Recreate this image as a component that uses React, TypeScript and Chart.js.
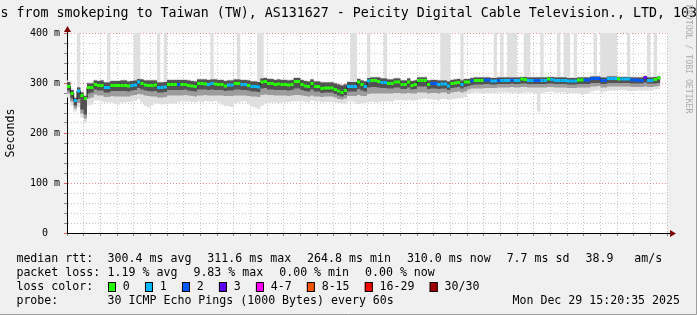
import React, { useEffect, useRef } from 'react';
import { Chart, registerables } from 'chart.js';

Chart.register(...registerables);

// ---- time axis (minutes after 12:00) ----
const FIRST_SAMPLE_MIN = 21; // 12:21, one sample per minute
const X_MIN = 21;
const X_MAX = 201;
const xTickMinutes = [40, 60, 80, 100, 120, 140, 160, 180, 200];
const xTickLabels = ['12:40', '13:00', '13:20', '13:40', '14:00', '14:20', '14:40', '15:00', '15:20'];

// ---- value axis (milliseconds) ----
const yTickValues = [0, 100, 200, 300, 400];
const yTickLabels = ['0', '100 m', '200 m', '300 m', '400 m'];

// ---- median rtt per minute (ms) ----
const medianMs = [
  293, 279, 265, 284, 275, 269, 291, 291, 297, 295,
  295, 291, 291, 295, 295, 295, 295, 295, 294, 295,
  296, 302, 299, 296, 295, 295, 296, 291, 291, 292,
  297, 297, 297, 297, 297, 297, 295, 294, 293, 299,
  299, 298, 297, 299, 298, 297, 297, 294, 296, 296,
  299, 299, 297, 297, 295, 293, 293, 292, 302, 303,
  299, 299, 297, 298, 297, 297, 296, 297, 303, 303,
  297, 294, 293, 299, 293, 293, 289, 290, 290, 290,
  287, 284, 281, 285, 293, 293, 293, 302, 297, 293,
  304, 305, 305, 303, 301, 301, 299, 299, 302, 302,
  297, 297, 302, 295, 297, 305, 305, 305, 297, 299,
  299, 297, 298, 298, 294, 299, 300, 301, 297, 302,
  302, 304, 305, 305, 305, 306, 306, 304, 304, 305,
  305, 305, 305, 306, 305, 305, 308, 307, 305, 305,
  305, 305, 305, 305, 308, 307, 305, 305, 305, 305,
  304, 304, 304, 306, 306, 306, 306, 309, 309, 309,
  305, 305, 309, 309, 309, 308, 308, 308, 308, 306,
  306, 305, 305, 311, 305, 305, 307, 310,
];

// ---- lost pings (of 30) per minute ----
const lossCount = [
  0, 0, 1, 1, 0, 0, 0, 0, 0, 0,
  0, 1, 1, 0, 0, 0, 0, 0, 0, 1,
  1, 1, 0, 0, 0, 0, 0, 1, 1, 1,
  0, 0, 0, 2, 0, 0, 0, 0, 0, 0,
  0, 0, 1, 1, 0, 0, 0, 0, 1, 1,
  0, 0, 1, 1, 0, 1, 1, 1, 0, 0,
  0, 0, 0, 0, 0, 0, 0, 0, 0, 0,
  0, 0, 0, 0, 0, 0, 0, 0, 0, 0,
  0, 0, 0, 0, 1, 1, 1, 0, 0, 1,
  1, 0, 0, 0, 1, 1, 0, 0, 0, 0,
  0, 0, 0, 0, 0, 0, 0, 0, 0, 2,
  2, 1, 1, 1, 1, 0, 0, 0, 1, 0,
  0, 2, 0, 0, 0, 2, 2, 1, 1, 2,
  1, 1, 1, 2, 1, 1, 0, 0, 1, 1,
  2, 2, 1, 1, 0, 1, 1, 1, 1, 1,
  1, 1, 1, 0, 0, 2, 2, 2, 2, 2,
  2, 2, 1, 1, 1, 0, 1, 1, 1, 2,
  2, 2, 2, 3, 1, 1, 0, 0,
];

// ---- smoke: spread of the 30 pings around the median (ms) ----
const smokeUpInner = [
  9, 7, 5, 7, 6, 5, 8, 8, 8, 9,
  10, 10, 10, 9, 9, 9, 10, 10, 9, 9,
  9, 6, 8, 9, 10, 10, 9, 10, 10, 10,
  9, 9, 9, 9, 9, 9, 10, 10, 10, 8,
  8, 9, 9, 8, 9, 9, 9, 10, 9, 9,
  8, 8, 9, 9, 10, 10, 10, 10, 7, 7,
  9, 9, 9, 9, 9, 9, 9, 9, 7, 7,
  9, 10, 10, 8, 10, 10, 12, 11, 11, 11,
  12, 13, 14, 12, 9, 9, 9, 6, 8, 10,
  6, 6, 6, 8, 8, 8, 8, 8, 7, 7,
  8, 8, 7, 9, 8, 6, 6, 6, 8, 7,
  7, 8, 7, 7, 9, 7, 7, 7, 8, 6,
  6, 6, 6, 6, 6, 5, 5, 6, 6, 6,
  6, 6, 6, 5, 6, 6, 4, 5, 6, 6,
  6, 6, 6, 6, 4, 5, 6, 6, 6, 6,
  6, 6, 6, 5, 5, 5, 5, 4, 4, 4,
  6, 6, 4, 4, 4, 4, 4, 4, 4, 5,
  5, 6, 6, 3, 6, 6, 5, 3,
];
const smokeUpOuter = [
  12, 10, 8, 250, 9, 8, 11, 11, 10, 11,
  12, 12, 250, 11, 11, 11, 12, 12, 11, 11,
  250, 250, 10, 11, 12, 12, 11, 250, 12, 250,
  11, 11, 11, 11, 11, 11, 12, 12, 12, 10,
  10, 11, 11, 250, 11, 11, 11, 12, 11, 11,
  10, 250, 11, 11, 12, 12, 12, 250, 250, 9,
  11, 11, 11, 11, 11, 11, 11, 11, 9, 9,
  11, 12, 12, 10, 12, 12, 14, 13, 13, 13,
  14, 15, 16, 14, 11, 250, 250, 8, 10, 12,
  250, 8, 8, 10, 10, 250, 10, 10, 9, 9,
  10, 10, 9, 11, 10, 8, 8, 8, 10, 9,
  9, 10, 250, 250, 250, 9, 9, 9, 250, 8,
  8, 8, 8, 8, 8, 7, 7, 8, 250, 8,
  250, 8, 250, 250, 250, 8, 6, 250, 250, 8,
  8, 8, 250, 8, 6, 7, 8, 250, 8, 250,
  250, 8, 250, 7, 7, 7, 7, 6, 250, 6,
  250, 250, 250, 250, 250, 6, 6, 6, 250, 7,
  7, 8, 8, 5, 250, 8, 250, 5,
];
const smokeDownInner = [
  8, 10, 10, 16, 28, 32, 12, 10, 10, 10,
  10, 10, 10, 11, 11, 11, 11, 11, 11, 10,
  10, 12, 12, 11, 11, 12, 12, 10, 10, 10,
  11, 11, 11, 11, 11, 10, 10, 10, 10, 12,
  12, 11, 11, 12, 12, 11, 11, 10, 11, 11,
  12, 12, 11, 11, 10, 10, 10, 10, 13, 13,
  12, 12, 11, 12, 11, 11, 11, 11, 14, 14,
  11, 10, 10, 12, 10, 10, 9, 9, 9, 9,
  9, 9, 8, 9, 10, 10, 10, 14, 12, 10,
  13, 13, 13, 12, 11, 11, 10, 10, 11, 11,
  9, 9, 11, 8, 9, 12, 12, 12, 9, 10,
  10, 9, 9, 9, 8, 9, 9, 9, 8, 10,
  8, 8, 8, 8, 8, 8, 8, 7, 7, 7,
  7, 7, 7, 7, 7, 7, 9, 8, 7, 7,
  7, 7, 7, 7, 9, 8, 7, 7, 7, 7,
  7, 7, 7, 8, 8, 8, 8, 9, 9, 9,
  7, 7, 9, 9, 9, 8, 8, 8, 8, 7,
  7, 6, 6, 10, 6, 6, 8, 10,
];
const smokeDownMid = [
  14, 16, 16, 24, 36, 40, 22, 20, 20, 20,
  20, 19, 19, 21, 22, 22, 22, 22, 21, 20,
  20, 24, 22, 21, 21, 22, 23, 20, 20, 20,
  22, 22, 22, 22, 22, 21, 20, 20, 20, 24,
  24, 22, 22, 24, 23, 22, 22, 20, 22, 22,
  24, 24, 22, 22, 21, 20, 20, 20, 26, 26,
  23, 23, 22, 23, 22, 22, 22, 22, 27, 27,
  22, 20, 20, 24, 20, 20, 17, 17, 17, 17,
  16, 16, 14, 16, 19, 19, 19, 26, 23, 19,
  26, 26, 26, 24, 22, 22, 20, 20, 22, 22,
  18, 18, 22, 16, 18, 24, 24, 24, 18, 19,
  19, 18, 17, 17, 16, 18, 18, 18, 16, 19,
  15, 15, 16, 16, 16, 16, 16, 14, 14, 14,
  14, 14, 14, 14, 14, 14, 16, 15, 14, 14,
  14, 14, 14, 14, 16, 15, 14, 14, 14, 14,
  14, 14, 14, 15, 15, 15, 15, 16, 16, 15,
  14, 14, 16, 16, 16, 15, 15, 15, 15, 14,
  14, 13, 13, 18, 13, 13, 14, 16,
];
const smokeDownOuter = [
  22, 24, 22, 32, 44, 48, 36, 34, 32, 30,
  32, 30, 30, 34, 36, 38, 34, 34, 32, 32,
  32, 34, 38, 42, 44, 40, 36, 32, 34, 34,
  38, 38, 38, 36, 34, 34, 32, 32, 32, 36,
  38, 34, 34, 36, 34, 36, 40, 40, 42, 44,
  40, 38, 34, 34, 38, 40, 42, 44, 48, 44,
  38, 38, 36, 38, 36, 36, 34, 34, 40, 40,
  34, 32, 32, 34, 30, 30, 28, 28, 28, 28,
  26, 24, 22, 26, 30, 30, 32, 44, 38, 32,
  42, 42, 44, 42, 38, 38, 36, 36, 36, 36,
  32, 32, 36, 30, 32, 38, 38, 36, 30, 32,
  32, 32, 30, 30, 28, 32, 32, 32, 28, 30,
  24, 24, 24, 24, 26, 26, 26, 24, 24, 24,
  24, 24, 24, 26, 24, 26, 28, 26, 24, 24,
  26, 62, 26, 24, 26, 24, 24, 24, 24, 24,
  24, 24, 24, 26, 30, 28, 26, 26, 24, 24,
  24, 22, 24, 24, 24, 22, 22, 22, 24, 22,
  22, 20, 20, 26, 20, 20, 20, 22,
];

// ---- legend ----
const lossLegendLabels = ['0', '1', '2', '3', '4-7', '8-15', '16-29', '30/30'];
const lossLegendColors = ['#26ff00', '#00b8ff', '#0059ff', '#5e00ff', '#ff00ff', '#ff5500', '#ff0000', '#a10000'];
const titleText = 's from smokeping to Taiwan (TW), AS131627 - Peicity Digital Cable Television., LTD, 103';
const medianRow = ['median rtt:', '300.4 ms avg', '311.6 ms max', '264.8 ms min', '310.0 ms now', '7.7 ms sd', '38.9   am/s'];
const lossRow = ['packet loss:', '1.19 % avg', '9.83 % max', '0.00 % min', '0.00 % now'];
const probeLabel = 'probe:';
const probeText = '30 ICMP Echo Pings (1000 Bytes) every 60s';
const stampText = 'Mon Dec 29 15:20:35 2025';

const MONO = '"DejaVu Sans Mono", monospace';

function lossClass(n: number): number {
  if (n <= 3) return n;
  if (n <= 7) return 4;
  if (n <= 15) return 5;
  if (n < 30) return 6;
  return 7;
}

function stepPoints(vals: number[]) {
  const pts = vals.map((v, i) => ({ x: FIRST_SAMPLE_MIN + i, y: v }));
  pts.push({ x: FIRST_SAMPLE_MIN + vals.length, y: vals[vals.length - 1] });
  return pts;
}

const decorPlugin = {
  id: 'decor',
  beforeDraw(chart: any) {
    const { ctx, chartArea: a, width, height } = chart;
    ctx.save();
    ctx.fillStyle = '#f0f0f0';
    ctx.fillRect(0, 0, width, height);
    ctx.fillStyle = '#ffffff';
    ctx.fillRect(a.left, a.top, a.right - a.left, a.bottom - a.top);
    ctx.restore();
  },
  afterDraw(chart: any) {
    const { ctx, chartArea: a, width, height } = chart;
    ctx.save();
    // frame
    ctx.strokeStyle = '#9e9e9e';
    ctx.lineWidth = 1;
    ctx.beginPath();
    ctx.moveTo(width - 0.5, 0);
    ctx.lineTo(width - 0.5, height - 0.5);
    ctx.lineTo(0, height - 0.5);
    ctx.stroke();

    // axis extensions + arrows
    ctx.strokeStyle = '#000';
    ctx.beginPath();
    ctx.moveTo(a.right, a.bottom + 0.5);
    ctx.lineTo(a.right + 5, a.bottom + 0.5);
    ctx.moveTo(a.left + 0.5, a.top);
    ctx.lineTo(a.left + 0.5, a.top - 3);
    ctx.stroke();
    ctx.fillStyle = '#7f0000';
    ctx.beginPath();
    ctx.moveTo(a.right + 9, a.bottom + 0.5);
    ctx.lineTo(a.right + 3, a.bottom - 3);
    ctx.lineTo(a.right + 3, a.bottom + 4);
    ctx.closePath();
    ctx.fill();
    ctx.beginPath();
    ctx.moveTo(a.left + 0.5, a.top - 7);
    ctx.lineTo(a.left - 3, a.top - 1);
    ctx.lineTo(a.left + 4, a.top - 1);
    ctx.closePath();
    ctx.fill();

    // title
    ctx.fillStyle = '#000';
    ctx.textBaseline = 'middle';
    ctx.textAlign = 'left';
    ctx.font = `13.3px ${MONO}`;
    ctx.fillText(titleText, 0.5, 14);

    // watermark
    ctx.save();
    ctx.translate(688, 5);
    ctx.rotate(Math.PI / 2);
    ctx.font = `8.2px ${MONO}`;
    ctx.fillStyle = '#aaaaaa';
    ctx.textBaseline = 'middle';
    ctx.fillText('RRDTOOL / TOBI OETIKER', 0, 0);
    ctx.restore();

    // legend (rrdtool style: first column, tab stop, items separated by a fixed gap)
    ctx.font = `11.6px ${MONO}`;
    ctx.fillStyle = '#000';
    const x0 = 16.4;
    const tab = 107.6;
    const gap = 16;
    const row = (parts: string[], y: number) => {
      ctx.fillText(parts[0], x0, y);
      let x = tab;
      for (let i = 1; i < parts.length; i++) {
        ctx.fillText(parts[i], x, y);
        x += ctx.measureText(parts[i]).width + gap;
      }
    };
    row(medianRow, 259);
    row(lossRow, 273);

    ctx.fillText('loss color:', x0, 287);
    let cx = 108;
    lossLegendLabels.forEach((lab, i) => {
      ctx.fillStyle = lossLegendColors[i];
      ctx.fillRect(cx, 282, 8, 10);
      ctx.strokeStyle = '#000';
      ctx.strokeRect(cx + 0.5, 282.5, 7, 9);
      ctx.fillStyle = '#000';
      ctx.fillText(lab, cx + 14.8, 287);
      cx += 14.8 + ctx.measureText(lab).width + 15.2;
    });

    ctx.fillText(probeLabel, x0, 301);
    ctx.fillText(probeText, tab, 301);
    ctx.textAlign = 'right';
    ctx.fillText(stampText, 680, 301);
    ctx.restore();
  },
};

export default function App() {
  const ref = useRef<HTMLCanvasElement | null>(null);

  useEffect(() => {
    document.body.style.margin = '0';
    const canvas = ref.current;
    if (!canvas) return;

    const bandLo = (off: number[]) => medianMs.map((m, i) => m - off[i]);
    const bandHi = (off: number[]) => medianMs.map((m, i) => m + off[i]);

    const medianPieces: any[] = [];
    medianMs.forEach((m, i) => {
      const t = FIRST_SAMPLE_MIN + i;
      medianPieces.push({ x: t, y: m }, { x: t + 1, y: m }, { x: t + 1, y: null });
    });

    const common = { pointRadius: 0, borderWidth: 0, stepped: true as const, fill: false };

    const isMajorX = (v: number) => xTickMinutes.includes(v);
    const isMajorY = (v: number) => yTickValues.includes(v);

    const chart = new Chart(canvas, {
      type: 'line',
      data: {
        datasets: [
          {
            data: medianPieces,
            pointRadius: 0,
            borderWidth: 3,
            borderCapStyle: 'butt',
            spanGaps: false,
            order: 0,
            segment: {
              borderColor: (c: any) => lossLegendColors[lossClass(lossCount[Math.floor(c.p0DataIndex / 3)])],
            },
          } as any,
          {
            data: stepPoints(medianMs),
            pointRadius: 0,
            borderWidth: 1,
            borderColor: '#1a1a1a',
            stepped: true,
            order: 1,
          },
          { ...common, data: stepPoints(bandLo(smokeDownInner)), order: 10 },
          { ...common, data: stepPoints(bandHi(smokeUpInner)), fill: 2, backgroundColor: '#525252', order: 2 },
          { ...common, data: stepPoints(bandLo(smokeDownMid)), order: 11 },
          { ...common, data: stepPoints(bandHi(smokeUpInner)), fill: 4, backgroundColor: '#9c9c9c', order: 3 },
          { ...common, data: stepPoints(bandLo(smokeDownOuter)), order: 12 },
          { ...common, data: stepPoints(bandHi(smokeUpOuter)), fill: 6, backgroundColor: '#dfdfdf', order: 4 },
        ],
      },
      options: {
        animation: false,
        responsive: false,
        devicePixelRatio: 1,
        events: [],
        layout: { padding: { left: 0, top: 33, right: 30, bottom: 0 } },
        plugins: {
          legend: { display: false },
          tooltip: { enabled: false },
          title: { display: false },
        },
        scales: {
          x: {
            type: 'linear',
            min: X_MIN,
            max: X_MAX,
            z: 1,
            afterFit: (s: any) => {
              s.height = 82;
            },
            ticks: {
              stepSize: 5,
              includeBounds: false,
              autoSkip: false,
              maxRotation: 0,
              padding: 2,
              color: '#000',
              font: { family: MONO, size: 10 },
              callback: (v: any) => {
                const k = xTickMinutes.indexOf(Number(v));
                return k >= 0 ? xTickLabels[k] : '';
              },
            },
            grid: {
              color: (c: any) => (isMajorX(c.tick?.value) ? 'rgba(230,120,120,0.8)' : 'rgba(150,150,150,0.5)'),
              lineWidth: 1,
              drawTicks: true,
              tickLength: 3,
              tickColor: (c: any) => (isMajorX(c.tick?.value) ? '#e06060' : '#888'),
            },
            border: { display: true, color: '#000', width: 1, dash: [1, 2] },
          },
          y: {
            min: 0,
            max: 400,
            z: 1,
            afterFit: (s: any) => {
              s.width = 67;
            },
            ticks: {
              stepSize: 20,
              autoSkip: false,
              crossAlign: 'center',
              padding: 4,
              color: '#000',
              font: { family: MONO, size: 10 },
              callback: (v: any) => {
                const k = yTickValues.indexOf(Number(v));
                return k >= 0 ? yTickLabels[k] : '';
              },
            },
            title: {
              display: true,
              text: 'Seconds',
              color: '#000',
              font: { family: MONO, size: 11.6 },
              padding: { top: 4, bottom: 0 },
            },
            grid: {
              color: (c: any) => (isMajorY(c.tick?.value) ? 'rgba(230,120,120,0.8)' : 'rgba(150,150,150,0.5)'),
              lineWidth: 1,
              drawTicks: true,
              tickLength: 3,
              tickColor: (c: any) => (isMajorY(c.tick?.value) ? '#e06060' : '#888'),
            },
            border: { display: true, color: '#000', width: 1, dash: [1, 2] },
          },
        },
      },
      plugins: [decorPlugin],
    });

    return () => chart.destroy();
  }, []);

  return <canvas ref={ref} width={697} height={315} style={{ display: 'block', width: 697, height: 315 }} />;
}
